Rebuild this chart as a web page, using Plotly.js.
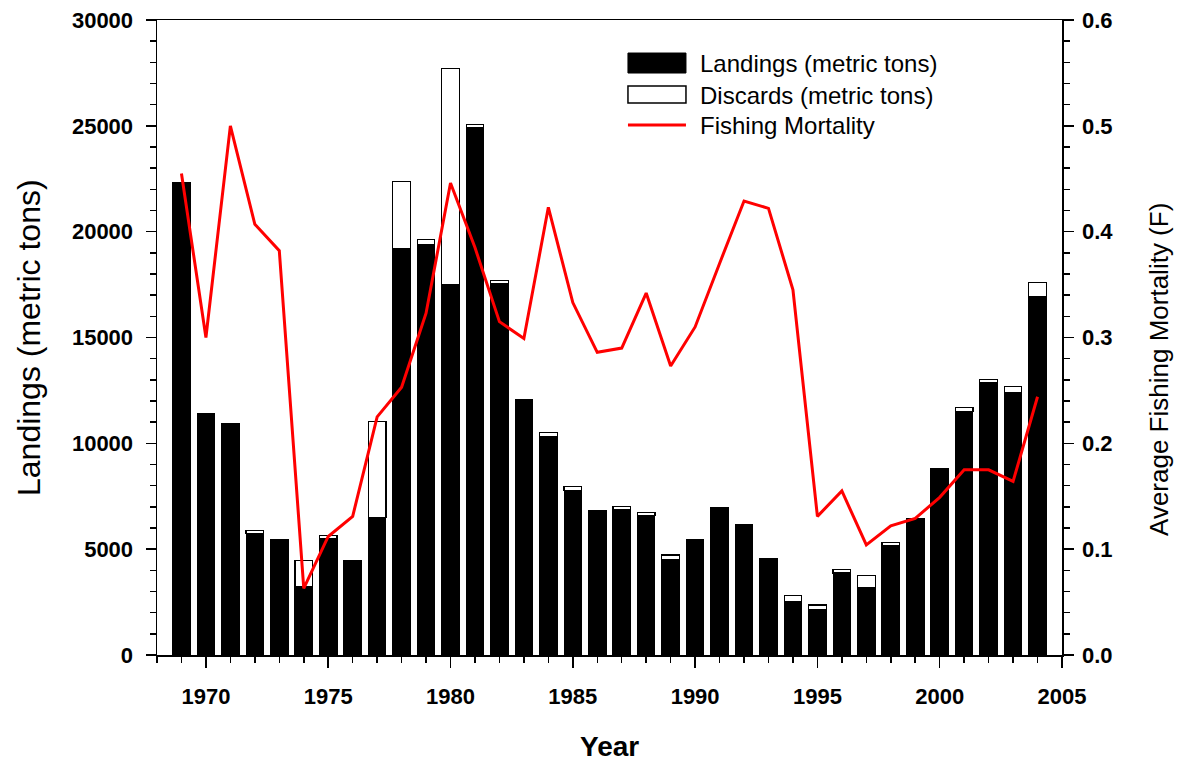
<!DOCTYPE html>
<html>
<head>
<meta charset="utf-8">
<script src="https://cdn.plot.ly/plotly-3.0.1.min.js"></script>
<style>
  html, body { margin: 0; padding: 0; background: #ffffff; }
  #chart { width: 1185px; height: 762px; }
</style>
</head>
<body>
<div id="chart"></div>
<script>
// Annual landings, discards (metric tons) and average fishing mortality
const years = [1969, 1970, 1971, 1972, 1973, 1974, 1975, 1976, 1977, 1978, 1979, 1980,
               1981, 1982, 1983, 1984, 1985, 1986, 1987, 1988, 1989, 1990, 1991, 1992,
               1993, 1994, 1995, 1996, 1997, 1998, 1999, 2000, 2001, 2002, 2003, 2004];

const landings = [22300, 11400, 10950, 5730, 5440, 3250, 5480, 4480, 6480, 19180, 19380, 17520,
                  24900, 17550, 12050, 10320, 7780, 6850, 6850, 6580, 4520, 5440, 6950, 6180,
                  4580, 2530, 2150, 3870, 3170, 5150, 6450, 8820, 11500, 12860, 12380, 16950];

const discards = [0, 0, 0, 170, 0, 1200, 170, 0, 4570, 3200, 240, 10180,
                  160, 140, 0, 190, 190, 0, 180, 160, 200, 0, 0, 0,
                  0, 270, 210, 180, 590, 170, 0, 0, 200, 140, 300, 650];

const fishingMortality = [0.455, 0.300, 0.500, 0.407, 0.382, 0.063, 0.112, 0.131, 0.225, 0.253, 0.323, 0.446,
                          0.385, 0.315, 0.299, 0.423, 0.333, 0.286, 0.290, 0.342, 0.273, 0.310, 0.370, 0.429,
                          0.422, 0.345, 0.131, 0.155, 0.104, 0.122, 0.129, 0.149, 0.175, 0.175, 0.164, 0.244];

const legendLabels = ['Landings (metric tons)', 'Discards (metric tons)', 'Fishing Mortality'];

const FONT = 'Liberation Sans, Arial, sans-serif';
const BAR_WIDTH = 0.72;

const traces = [
  {
    type: 'bar', x: years, y: landings, name: legendLabels[0],
    width: BAR_WIDTH,
    marker: { color: '#000000', line: { color: '#000000', width: 1 } }
  },
  {
    type: 'bar', x: years, y: discards.map(v => (v > 0 ? v : null)), name: legendLabels[1],
    width: BAR_WIDTH,
    marker: { color: '#ffffff', line: { color: '#000000', width: 1.2 } }
  },
  {
    type: 'scatter', mode: 'lines', x: years, y: fishingMortality, name: legendLabels[2],
    yaxis: 'y2',
    line: { color: '#ff0000', width: 3 }
  }
];

const tickFont = { family: FONT, size: 22, color: '#000000', weight: 'bold' };

// custom legend block (boxes + labels), in paper coordinates
const legX0 = 0.5204, legX1 = 0.5845, legTextX = 0.5978;
const shapes = [
  { type: 'rect', xref: 'paper', yref: 'paper', x0: legX0, x1: legX1, y0: 0.9165, y1: 0.948,
    fillcolor: '#000000', line: { color: '#000000', width: 1 } },
  { type: 'rect', xref: 'paper', yref: 'paper', x0: legX0, x1: legX1, y0: 0.8693, y1: 0.8961,
    fillcolor: '#ffffff', line: { color: '#000000', width: 1.5 } },
  { type: 'line', xref: 'paper', yref: 'paper', x0: legX0, x1: legX1, y0: 0.8346, y1: 0.8346,
    line: { color: '#ff0000', width: 3 } },
  // short overhang of the x axis line to the left of the y axis
  { type: 'line', xref: 'paper', yref: 'paper', x0: -0.01, x1: 0, y0: 0, y1: 0,
    line: { color: '#000000', width: 1.5 } }
];

const legendYs = [0.932, 0.881, 0.834];
const annotations = legendLabels.map((t, i) => ({
  text: t, xref: 'paper', yref: 'paper', x: legTextX, y: legendYs[i],
  xanchor: 'left', yanchor: 'middle', showarrow: false,
  font: { family: FONT, size: 24, color: '#000000' }
}));

annotations.push(
  { text: 'Landings (metric tons)', textangle: -90, xref: 'paper', yref: 'paper',
    x: -0.142, y: 0.50, xanchor: 'center', yanchor: 'middle', showarrow: false,
    font: { family: FONT, size: 32, color: '#000000' } },
  { text: 'Average Fishing Mortality (F)', textangle: -90, xref: 'paper', yref: 'paper',
    x: 1.108, y: 0.45, xanchor: 'center', yanchor: 'middle', showarrow: false,
    font: { family: FONT, size: 26, color: '#000000' } },
  { text: 'Year', xref: 'paper', yref: 'paper',
    x: 0.5, y: -0.144, xanchor: 'center', yanchor: 'middle', showarrow: false,
    font: { family: FONT, size: 28, color: '#000000', weight: 'bold' } }
);

const layout = {
  width: 1185, height: 762,
  margin: { l: 157, r: 123, t: 20, b: 107, pad: 0 },
  paper_bgcolor: '#ffffff', plot_bgcolor: '#ffffff',
  showlegend: false,
  barmode: 'stack',
  xaxis: {
    range: [1968, 2005], tickmode: 'linear', tick0: 1970, dtick: 5,
    ticks: 'outside', ticklen: 11, tickwidth: 1.5, tickcolor: '#000000',
    minor: { tickmode: 'linear', tick0: 1968, dtick: 1, ticks: 'outside', ticklen: 6, tickwidth: 1.5, tickcolor: '#000000', showgrid: false },
    showline: true, linecolor: '#000000', linewidth: 1.5, mirror: true,
    showgrid: false, zeroline: false, tickfont: tickFont, ticklabelstandoff: 10
  },
  yaxis: {
    range: [0, 30000], tickmode: 'linear', tick0: 0, dtick: 5000, tickformat: 'd',
    ticks: 'outside', ticklen: 10, tickwidth: 1.5, tickcolor: '#000000',
    minor: { tickmode: 'linear', tick0: 0, dtick: 1000, ticks: 'outside', ticklen: 6, tickwidth: 1.5, tickcolor: '#000000', showgrid: false },
    showline: true, linecolor: '#000000', linewidth: 1.5,
    showgrid: false, zeroline: false, tickfont: tickFont, ticklabelstandoff: 8
  },
  yaxis2: {
    overlaying: 'y', side: 'right',
    range: [0, 0.6], tickmode: 'linear', tick0: 0, dtick: 0.1, tickformat: '.1f',
    ticks: 'outside', ticklen: 10, tickwidth: 1.5, tickcolor: '#000000',
    minor: { tickmode: 'linear', tick0: 0, dtick: 0.02, ticks: 'outside', ticklen: 6, tickwidth: 1.5, tickcolor: '#000000', showgrid: false },
    showline: true, linecolor: '#000000', linewidth: 1.5,
    showgrid: false, zeroline: false, tickfont: tickFont, ticklabelstandoff: 4
  },
  shapes: shapes,
  annotations: annotations
};

Plotly.newPlot('chart', traces, layout, { staticPlot: true, displayModeBar: false });
</script>
</body>
</html>
